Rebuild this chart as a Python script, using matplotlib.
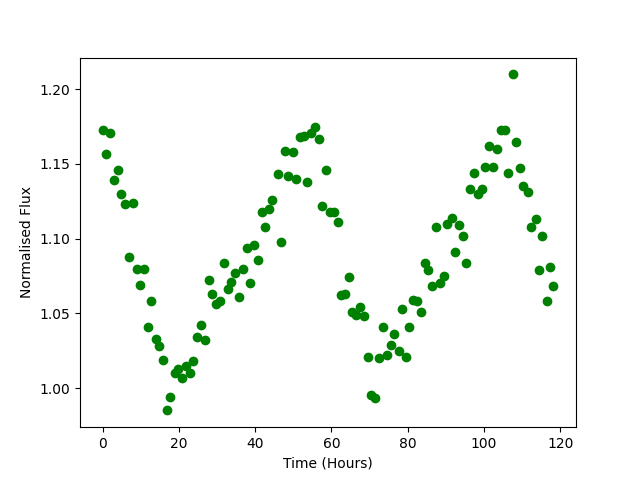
import matplotlib
matplotlib.use("Agg")
import matplotlib.pyplot as plt

time_hours = [
    0.0, 0.9, 1.9, 3.0, 4.0, 4.8, 5.9, 6.9, 8.1, 9.0,
    9.8, 10.9, 11.9, 12.8, 14.1, 14.9, 15.8, 16.9, 17.8, 19.1,
    19.8, 20.8, 21.9, 22.8, 23.8, 24.8, 25.9, 26.9, 27.9, 28.7,
    29.8, 30.9, 31.8, 32.9, 33.7, 34.7, 35.7, 36.8, 37.9, 38.7,
    39.7, 40.8, 41.7, 42.6, 43.6, 44.4, 45.9, 46.8, 47.7, 48.6,
    49.8, 50.7, 51.8, 52.8, 53.6, 54.6, 55.7, 56.8, 57.6, 58.6,
    59.6, 60.7, 61.7, 62.4, 63.5, 64.6, 65.4, 66.5, 67.5, 68.6,
    69.6, 70.5, 71.4, 72.4, 73.6, 74.6, 75.6, 76.5, 77.6, 78.6,
    79.6, 80.4, 81.4, 82.5, 83.5, 84.5, 85.3, 86.4, 87.5, 88.5,
    89.6, 90.4, 91.5, 92.4, 93.5, 94.6, 95.4, 96.4, 97.5, 98.5,
    99.5, 100.3, 101.3, 102.4, 103.4, 104.4, 105.4, 106.4, 107.5, 108.4,
    109.3, 110.3, 111.4, 112.4, 113.5, 114.3, 115.3, 116.4, 117.4, 118.2,
]

flux = [
    1.173, 1.157, 1.171, 1.139, 1.146, 1.130, 1.123, 1.088, 1.124, 1.080,
    1.069, 1.080, 1.041, 1.058, 1.033, 1.028, 1.019, 0.985, 0.994, 1.010,
    1.013, 1.007, 1.015, 1.010, 1.018, 1.034, 1.042, 1.032, 1.072, 1.063,
    1.056, 1.058, 1.084, 1.066, 1.071, 1.077, 1.061, 1.080, 1.094, 1.070,
    1.096, 1.086, 1.118, 1.108, 1.120, 1.126, 1.143, 1.098, 1.159, 1.142,
    1.158, 1.140, 1.168, 1.169, 1.138, 1.171, 1.175, 1.167, 1.122, 1.146,
    1.118, 1.118, 1.111, 1.062, 1.063, 1.074, 1.051, 1.049, 1.054, 1.048,
    1.021, 0.995, 0.993, 1.020, 1.041, 1.022, 1.029, 1.036, 1.025, 1.053,
    1.021, 1.041, 1.059, 1.058, 1.051, 1.084, 1.079, 1.068, 1.108, 1.070,
    1.075, 1.110, 1.114, 1.091, 1.109, 1.102, 1.084, 1.133, 1.144, 1.130,
    1.133, 1.148, 1.162, 1.148, 1.160, 1.173, 1.173, 1.144, 1.210, 1.165,
    1.147, 1.135, 1.131, 1.108, 1.113, 1.079, 1.102, 1.058, 1.081, 1.068,
]

fig, ax = plt.subplots(figsize=(6.4, 4.8), dpi=100)
ax.plot(time_hours, flux, 'o', color='green')
ax.set_xlabel('Time (Hours)')
ax.set_ylabel('Normalised Flux')
fig.savefig('out.png')
